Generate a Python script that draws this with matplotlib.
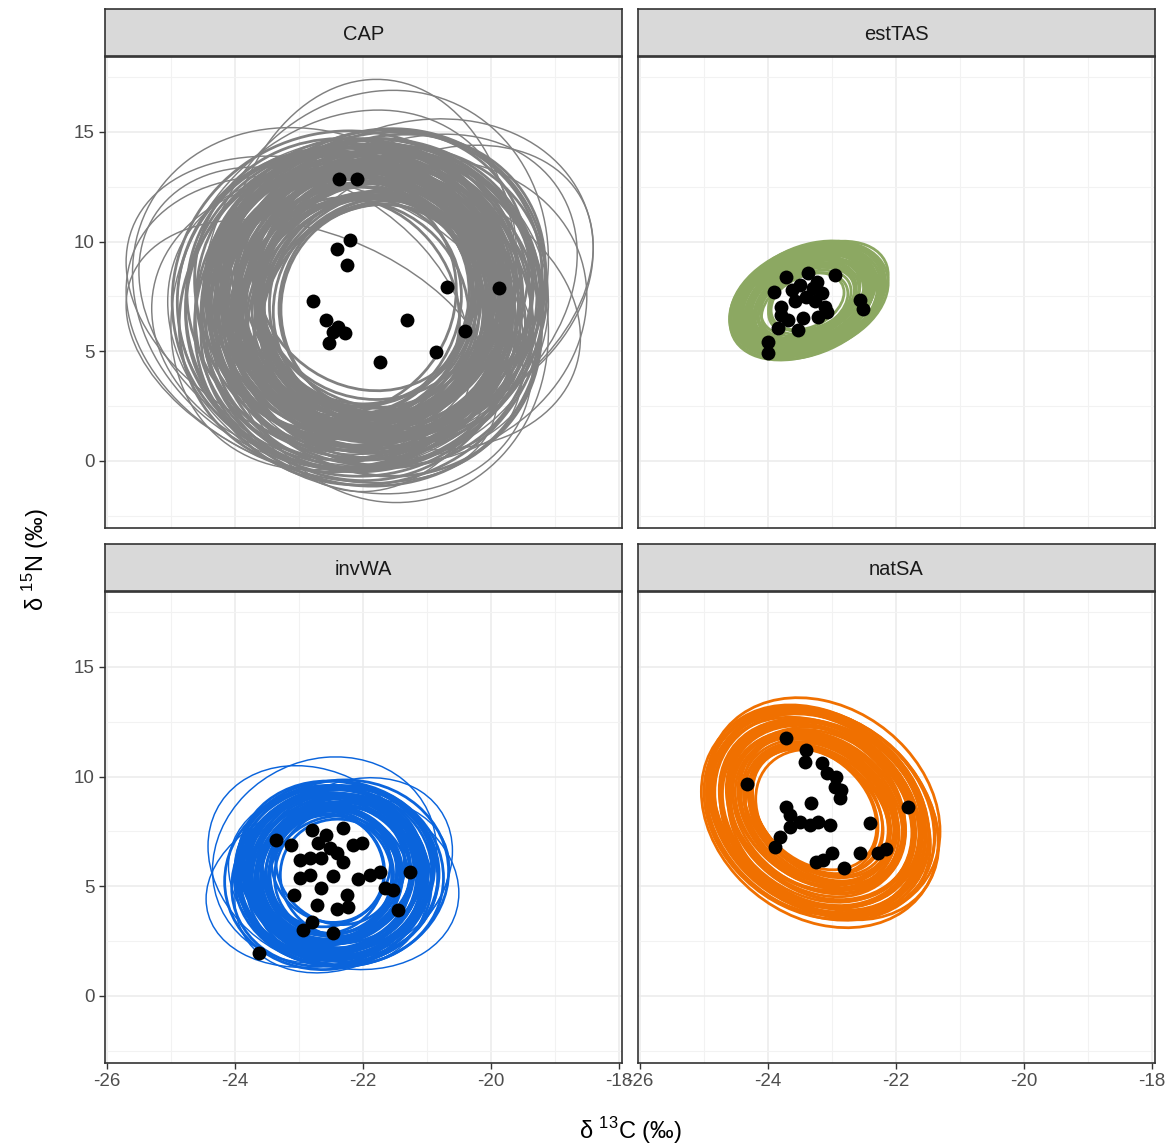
import numpy as np
import matplotlib.pyplot as plt
from matplotlib.patches import Circle
from matplotlib.transforms import Affine2D

plt.rcParams['font.family'] = ['Liberation Sans', 'DejaVu Sans']
plt.rcParams['mathtext.fontset'] = 'custom'
plt.rcParams['mathtext.rm'] = 'Liberation Sans'
plt.rcParams['axes.unicode_minus'] = False

groups = ["CAP", "estTAS", "invWA", "natSA"]
colours = ["#808080", "#8CA862", "#0A64DC", "#F07000"]

# raw isotope values per group
cap_d13c = [-22.37, -22.09, -22.20, -22.40, -22.25, -20.69, -19.87, -22.78, -22.57,
            -22.39, -22.28, -22.46, -22.53, -21.31, -20.41, -20.85, -21.73]
cap_d15n = [12.85, 12.85, 10.08, 9.65, 8.92, 7.95, 7.87, 7.31, 6.43,
            6.12, 5.82, 5.90, 5.37, 6.43, 5.94, 4.97, 4.51]

est_d13c = [-23.71, -23.37, -22.95, -23.90, -23.63, -23.24, -23.16, -23.40, -23.79,
            -23.58, -23.11, -23.27, -23.08, -23.21, -22.56, -22.51, -23.79, -23.68,
            -23.84, -23.53, -24.00, -24.00, -23.50, -23.30, -23.45]
est_d15n = [8.40, 8.56, 8.48, 7.72, 7.80, 8.18, 7.65, 7.49, 7.04,
            7.27, 7.04, 7.27, 6.81, 6.58, 7.34, 6.92, 6.66, 6.43,
            6.05, 5.97, 5.44, 4.91, 8.00, 7.90, 6.50]

inv_d13c = [-23.35, -23.13, -22.80, -22.57, -22.31, -22.70, -22.52, -22.15, -22.02,
            -22.98, -22.83, -22.65, -22.41, -22.31, -22.98, -22.83, -22.46, -22.07,
            -21.89, -21.73, -21.27, -22.65, -21.66, -21.53, -23.08, -22.25, -21.45,
            -22.72, -22.41, -22.23, -22.80, -22.93, -22.46, -23.62]
inv_d15n = [7.11, 6.89, 7.57, 7.34, 7.68, 6.96, 6.73, 6.89, 6.96,
            6.20, 6.28, 6.28, 6.51, 6.12, 5.37, 5.52, 5.47, 5.32,
            5.52, 5.67, 5.67, 4.91, 4.91, 4.83, 4.61, 4.61, 3.92,
            4.15, 3.95, 4.07, 3.39, 3.01, 2.86, 1.97]

nat_d13c = [-23.72, -24.32, -23.40, -23.42, -23.16, -23.08, -22.93, -22.95, -22.85,
            -22.88, -23.71, -23.33, -23.66, -23.50, -23.34, -23.21, -23.03, -23.66,
            -23.81, -23.89, -22.40, -21.81, -22.56, -22.28, -22.15, -23.00, -23.14,
            -23.25, -22.81]
nat_d15n = [11.75, 9.65, 11.22, 10.68, 10.61, 10.15, 10.00, 9.54, 9.39,
            9.01, 8.63, 8.79, 8.25, 7.95, 7.80, 7.95, 7.80, 7.72,
            7.26, 6.78, 7.90, 8.60, 6.53, 6.53, 6.69, 6.53, 6.20,
            6.12, 5.82]

# posterior ellipses: centre, half-extent in x and y, correlation
cap_cx = [-21.92, -21.75, -22.10, -21.85, -22.05, -21.70, -21.98, -22.20, -21.80, -21.95,
          -22.02, -21.65, -21.88, -22.15, -21.78, -21.90, -22.08, -21.72, -21.96, -22.25,
          -21.84, -22.00, -21.70, -21.93, -22.12, -21.82, -21.99, -21.68, -22.06, -21.87,
          -21.76, -22.18, -21.91, -21.58, -22.03, -21.81, -21.97, -22.30, -21.74, -21.89,
          -22.09, -21.66, -21.94, -21.83, -22.14, -21.79, -22.01, -21.71, -21.86, -22.22,
          -21.85, -22.04, -21.73, -22.16, -21.90, -21.62, -22.11, -21.95, -21.80, -22.27,
          -21.69, -22.00, -21.88, -22.07, -21.77, -21.93, -22.19, -21.64, -21.98, -21.84,
          -21.83, -22.06, -21.74, -22.21, -21.92, -21.61, -22.13, -21.97, -21.79, -22.24,
          -21.70, -22.02, -21.86, -22.09, -21.76, -21.94, -22.17, -21.66, -21.99, -21.81,
          -22.28, -21.88, -21.72, -22.05, -21.91]
cap_cy = [7.30, 7.00, 7.60, 6.90, 7.40, 7.80, 8.10, 7.20, 7.50, 6.50,
          7.90, 7.10, 6.80, 7.70, 7.30, 6.40, 7.00, 8.00, 7.40, 6.90,
          7.20, 7.60, 6.90, 7.10, 7.80, 6.80, 7.50, 7.00, 6.30, 7.30,
          7.70, 6.90, 7.40, 7.20, 6.70, 8.10, 7.00, 7.30, 6.60, 7.60,
          7.10, 7.50, 6.90, 7.80, 7.20, 6.60, 7.40, 7.00, 7.70, 6.80,
          7.15, 7.55, 6.85, 7.35, 7.95, 7.05, 6.75, 7.65, 7.25, 7.45,
          6.95, 7.85, 6.55, 7.15, 7.50, 7.35, 6.85, 7.70, 7.05, 7.40,
          7.25, 7.45, 6.95, 7.65, 7.10, 7.55, 6.70, 7.80, 7.00, 7.35,
          7.90, 6.60, 7.50, 7.20, 6.85, 7.75, 7.05, 7.40, 6.65, 7.60,
          7.15, 6.95, 7.85, 7.30, 6.50]
cap_sx = [1.62, 1.95, 2.30, 1.78, 2.10, 2.55, 1.70, 2.00, 2.42, 1.85,
          2.20, 1.66, 2.05, 2.48, 1.90, 2.15, 1.74, 2.35, 1.98, 2.62,
          1.80, 2.25, 1.58, 2.08, 2.38, 1.88, 2.18, 1.72, 2.45, 2.02,
          1.92, 2.28, 1.68, 2.12, 2.50, 1.83, 2.22, 1.76, 2.40, 1.96,
          1.60, 2.32, 1.64, 2.16, 1.87, 2.58, 2.00, 1.75, 2.26, 2.68,
          1.70, 2.24, 1.86, 2.44, 2.04, 1.94, 2.34, 1.77, 2.52, 2.11,
          1.99, 2.29, 1.81, 2.40, 2.07, 2.19, 1.73, 2.46, 1.91, 2.14,
          1.84, 2.36, 2.62, 1.97, 2.70, 2.27, 1.79, 2.56, 2.13, 2.74,
          1.89, 2.41, 2.66, 2.09, 2.53, 1.95, 2.60, 2.31, 2.78, 2.02,
          2.47, 1.85, 2.58, 2.21, 2.72]
cap_sy = [4.7, 5.9, 6.5, 5.2, 6.0, 7.1, 4.9, 5.8, 6.9, 5.5,
          6.4, 4.9, 6.1, 7.0, 5.4, 6.3, 5.1, 6.7, 5.7, 7.4,
          5.3, 6.6, 4.8, 5.9, 6.8, 5.6, 6.2, 5.0, 7.2, 5.8,
          5.6, 6.5, 4.9, 6.2, 7.0, 5.3, 6.4, 5.2, 6.9, 5.7,
          4.9, 6.6, 4.8, 6.3, 5.5, 7.3, 5.8, 5.1, 6.5, 7.5,
          5.0, 6.4, 5.5, 6.9, 5.9, 5.6, 6.7, 5.2, 7.2, 6.1,
          5.8, 6.5, 5.3, 6.8, 6.0, 6.3, 5.1, 7.0, 5.6, 6.2,
          5.4, 6.6, 7.4, 5.7, 7.6, 6.4, 5.2, 7.3, 6.0, 7.7,
          5.5, 6.8, 7.5, 6.0, 7.2, 5.6, 7.4, 6.5, 7.8, 5.9,
          7.0, 5.3, 7.3, 6.3, 7.6]
cap_r = [0.05, -0.10, 0.12, -0.05, 0.00, 0.15, -0.12, 0.08, -0.02, 0.10,
         -0.15, 0.03, 0.18, -0.08, 0.06, -0.04, 0.14, -0.18, 0.02, 0.09,
         -0.06, 0.11, 0.00, -0.13, 0.07, 0.16, -0.09, 0.04, -0.03, 0.12,
         0.01, -0.11, 0.08, -0.16, 0.13, -0.01, 0.05, 0.10, -0.07, 0.02,
         -0.14, 0.06, 0.17, -0.05, 0.09, -0.10, 0.03, -0.02, 0.15, -0.06,
         0.07, -0.12, 0.14, -0.03, 0.09, -0.08, 0.11, -0.15, 0.04, 0.12,
         -0.06, 0.02, 0.16, -0.10, 0.05, -0.02, 0.13, -0.07, 0.08, -0.12,
         0.03, -0.09, 0.12, -0.14, 0.06, 0.10, -0.04, 0.15, -0.11, 0.01,
         0.08, -0.07, 0.13, -0.02, 0.09, -0.13, 0.04, 0.11, -0.05, 0.14,
         -0.08, 0.02, 0.07, -0.12, 0.05]

# the wider, less likely CAP draws
cap_wide_cx = [-22.60, -22.40, -21.20, -21.90, -21.60, -22.80, -21.00, -22.00,
               -22.30, -21.50, -22.90, -21.40, -22.70, -21.30, -22.20, -21.80, -22.50]
cap_wide_cy = [6.0, 6.3, 8.6, 8.0, 6.3, 5.0, 7.8, 7.2, 7.8, 6.9, 6.6, 7.6,
               7.4, 6.8, 5.8, 8.3, 7.0]
cap_wide_sx = [3.10, 2.90, 2.80, 2.30, 2.50, 2.90, 2.60, 2.90, 2.70, 2.90, 2.60, 2.75,
               2.90, 2.80, 2.85, 2.70, 3.20]
cap_wide_sy = [7.0, 6.6, 7.0, 9.4, 8.2, 6.0, 6.6, 7.5, 8.2, 6.4, 6.8, 7.3,
               7.8, 7.0, 7.3, 8.6, 6.9]
cap_wide_r = [-0.25, -0.10, 0.15, 0.05, -0.05, -0.35, 0.30, 0.00, 0.20, -0.20, -0.30, 0.25,
              -0.15, 0.10, -0.20, 0.10, -0.30]

est_cx = [-23.38, -23.42, -23.33, -23.45, -23.36, -23.30, -23.40, -23.47, -23.35, -23.39,
          -23.44, -23.32, -23.37, -23.41, -23.28, -23.43, -23.36, -23.39, -23.46, -23.34,
          -23.40, -23.31, -23.38, -23.44, -23.35, -23.42, -23.37, -23.29, -23.41, -23.36,
          -23.33, -23.43, -23.39, -23.35, -23.40, -23.37, -23.41, -23.34, -23.43, -23.38,
          -23.31, -23.45, -23.36, -23.40, -23.33]
est_cy = [7.30, 7.20, 7.40, 7.25, 7.35, 7.45, 7.15, 7.28, 7.38, 7.22,
          7.32, 7.42, 7.18, 7.30, 7.50, 7.26, 7.36, 7.12, 7.24, 7.40,
          7.33, 7.21, 7.29, 7.37, 7.44, 7.19, 7.31, 7.41, 7.27, 7.34,
          7.23, 7.36, 7.28, 7.39, 7.25, 7.31, 7.24, 7.38, 7.20, 7.35,
          7.43, 7.17, 7.29, 7.36, 7.26]
est_sx = [1.05, 0.92, 1.15, 0.80, 1.00, 1.18, 0.70, 1.10, 0.95, 1.20,
          0.88, 1.08, 0.62, 1.02, 1.16, 0.85, 1.12, 0.76, 0.98, 1.14,
          1.06, 0.90, 1.22, 0.82, 1.04, 0.94, 1.11, 0.66, 1.00, 1.17,
          0.87, 1.09, 0.58, 0.96, 1.13, 0.74, 1.03, 0.84, 1.14, 0.93,
          0.68, 1.07, 0.79, 1.19, 0.89]
est_sy = [2.30, 2.05, 2.50, 1.78, 2.22, 2.58, 1.55, 2.40, 2.10, 2.62,
          1.95, 2.36, 1.40, 2.25, 2.52, 1.90, 2.45, 1.70, 2.15, 2.48,
          2.32, 2.00, 2.66, 1.82, 2.28, 2.08, 2.42, 1.48, 2.20, 2.55,
          1.92, 2.38, 1.30, 2.12, 2.46, 1.62, 2.24, 1.85, 2.47, 2.04,
          1.52, 2.35, 1.74, 2.58, 1.96]
est_r = [0.33, 0.28, 0.36, 0.30, 0.34, 0.26, 0.38, 0.31, 0.25, 0.35,
         0.37, 0.29, 0.32, 0.27, 0.39, 0.33, 0.28, 0.35, 0.26, 0.32,
         0.30, 0.37, 0.31, 0.28, 0.34, 0.33, 0.24, 0.36, 0.29, 0.33,
         0.35, 0.28, 0.31, 0.36, 0.27, 0.32, 0.30, 0.34, 0.29, 0.36,
         0.31, 0.27, 0.35, 0.30, 0.33]

inv_cx = [-22.45, -22.38, -22.52, -22.41, -22.48, -22.35, -22.55, -22.43, -22.50, -22.40,
          -22.46, -22.33, -22.58, -22.44, -22.39, -22.51, -22.47, -22.36, -22.42, -22.54,
          -22.49, -22.37, -22.45, -22.53, -22.40, -22.44, -22.31, -22.57, -22.46, -22.42,
          -22.50, -22.38, -22.48, -22.43, -22.56, -22.34, -22.47, -22.41, -22.52, -22.45,
          -22.42, -22.49, -22.36, -22.53, -22.44, -22.39, -22.51, -22.46, -22.35, -22.48]
inv_cy = [5.60, 5.40, 5.80, 5.50, 5.70, 5.30, 5.90, 5.60, 5.45, 5.75,
          5.55, 5.65, 5.35, 5.85, 5.50, 5.70, 5.40, 5.60, 5.80, 5.50,
          5.65, 5.45, 5.75, 5.55, 5.35, 5.90, 5.60, 5.50, 5.70, 5.40,
          5.60, 5.80, 5.45, 5.65, 5.55, 5.75, 5.30, 5.60, 5.50, 5.70,
          5.58, 5.48, 5.72, 5.62, 5.42, 5.78, 5.52, 5.68, 5.38, 5.64]
inv_sx = [1.20, 1.45, 0.95, 1.60, 1.10, 1.35, 0.88, 1.52, 1.25, 1.05,
          1.40, 1.15, 1.58, 0.92, 1.30, 1.48, 1.00, 1.62, 1.22, 1.38,
          1.08, 1.55, 1.28, 0.98, 1.42, 1.18, 1.65, 1.12, 1.33, 1.50,
          1.03, 1.27, 1.57, 1.36, 0.90, 1.44, 1.20, 1.53, 1.14, 1.31,
          1.16, 1.39, 1.02, 1.47, 1.24, 1.56, 1.09, 1.34, 0.94, 1.43]
inv_sy = [3.25, 3.85, 2.65, 4.10, 3.00, 3.60, 2.55, 3.95, 3.35, 2.90,
          3.70, 3.15, 4.15, 2.60, 3.50, 3.90, 2.80, 4.20, 3.30, 3.65,
          2.95, 4.05, 3.45, 2.75, 3.75, 3.20, 4.25, 3.05, 3.55, 4.00,
          2.85, 3.40, 4.10, 3.60, 2.70, 3.80, 3.25, 3.95, 3.10, 3.50,
          3.12, 3.68, 2.88, 3.90, 3.28, 4.02, 2.98, 3.58, 2.68, 3.78]
inv_r = [0.05, -0.08, 0.10, 0.02, -0.04, 0.12, -0.10, 0.06, 0.00, 0.08,
         -0.06, 0.14, 0.03, -0.12, 0.07, -0.02, 0.09, -0.05, 0.11, 0.01,
         -0.09, 0.04, 0.13, -0.03, 0.06, -0.11, 0.02, 0.10, -0.07, 0.05,
         0.08, -0.01, 0.12, -0.06, 0.03, 0.09, -0.04, 0.07, 0.00, -0.08,
         0.04, -0.07, 0.11, -0.02, 0.08, -0.10, 0.06, 0.01, -0.05, 0.09]

inv_wide_cx = [-22.60, -22.30, -22.55, -22.30, -22.70]
inv_wide_cy = [6.20, 5.30, 5.20, 5.50, 5.90]
inv_wide_sx = [1.75, 1.80, 1.90, 1.70, 1.72]
inv_wide_sy = [4.70, 4.10, 3.90, 4.45, 4.60]
inv_wide_r = [0.10, -0.15, 0.20, 0.25, -0.20]

nat_cx = [-23.20, -23.15, -23.26, -23.18, -23.24, -23.12, -23.28, -23.21, -23.16, -23.23,
          -23.19, -23.27, -23.13, -23.22, -23.17, -23.25, -23.20, -23.14, -23.29, -23.18,
          -23.22, -23.16, -23.24, -23.11, -23.21, -23.26, -23.19, -23.15, -23.23, -23.20,
          -23.17, -23.25, -23.13, -23.22, -23.28, -23.19, -23.16, -23.24, -23.21, -23.18,
          -23.23, -23.17, -23.26, -23.14, -23.20, -23.25, -23.18, -23.22, -23.15, -23.27]
nat_cy = [8.35, 8.20, 8.50, 8.30, 8.45, 8.15, 8.55, 8.40, 8.25, 8.38,
          8.28, 8.48, 8.60, 8.42, 8.33, 8.52, 8.22, 8.36, 8.46, 8.26,
          8.40, 8.30, 8.58, 8.24, 8.44, 8.34, 8.16, 8.49, 8.32, 8.41,
          8.27, 8.53, 8.37, 8.21, 8.43, 8.31, 8.47, 8.29, 8.39, 8.35,
          8.32, 8.44, 8.23, 8.51, 8.36, 8.27, 8.46, 8.34, 8.41, 8.29]
nat_sx = [1.35, 1.60, 1.05, 1.78, 1.22, 1.50, 0.98, 1.68, 1.42, 1.15,
          1.55, 1.28, 1.82, 1.02, 1.45, 1.65, 1.10, 1.75, 1.32, 1.58,
          1.20, 1.70, 1.38, 1.08, 1.62, 1.25, 1.85, 1.12, 1.48, 1.72,
          1.18, 1.40, 1.80, 1.52, 1.00, 1.66, 1.30, 1.76, 1.26, 1.56,
          1.14, 1.47, 1.63, 1.24, 1.71, 1.36, 1.06, 1.53, 1.29, 1.69]
nat_sy = [3.70, 4.40, 2.95, 4.85, 3.35, 4.10, 2.80, 4.60, 3.90, 3.20,
          4.25, 3.55, 5.00, 2.85, 4.00, 4.50, 3.05, 4.75, 3.65, 4.35,
          3.30, 4.65, 3.80, 3.00, 4.45, 3.45, 5.05, 3.10, 4.05, 4.70,
          3.25, 3.85, 4.90, 4.20, 2.90, 4.55, 3.60, 4.80, 3.50, 4.30,
          3.15, 4.05, 4.48, 3.40, 4.68, 3.75, 2.98, 4.22, 3.58, 4.62]
nat_r = [-0.24, -0.20, -0.28, -0.22, -0.26, -0.18, -0.30, -0.23, -0.21, -0.25,
         -0.19, -0.27, -0.22, -0.31, -0.24, -0.17, -0.29, -0.22, -0.20, -0.26,
         -0.24, -0.30, -0.21, -0.25, -0.19, -0.28, -0.23, -0.26, -0.22, -0.27,
         -0.16, -0.24, -0.29, -0.20, -0.26, -0.22, -0.25, -0.21, -0.28, -0.23,
         -0.27, -0.20, -0.24, -0.29, -0.21, -0.25, -0.30, -0.22, -0.26, -0.19]

points = [(cap_d13c, cap_d15n), (est_d13c, est_d15n), (inv_d13c, inv_d15n), (nat_d13c, nat_d15n)]
ellipses = [(cap_cx, cap_cy, cap_sx, cap_sy, cap_r),
            (est_cx, est_cy, est_sx, est_sy, est_r),
            (inv_cx, inv_cy, inv_sx, inv_sy, inv_r),
            (nat_cx, nat_cy, nat_sx, nat_sy, nat_r)]
wide = {0: (cap_wide_cx, cap_wide_cy, cap_wide_sx, cap_wide_sy, cap_wide_r),
        2: (inv_wide_cx, inv_wide_cy, inv_wide_sx, inv_wide_sy, inv_wide_r)}

W, H = 1175, 1148
fig = plt.figure(figsize=(W / 100, H / 100), dpi=100)

panel_x = [105, 638, 105, 638]
panel_top = [57, 57, 592, 592]
panel_w, panel_h, strip_h = 517, 471, 47
dark = "#333333"


def draw_ellipses(ax, cx, cy, sx, sy, rho, colour, lw):
    for x0, y0, a, b, r in zip(cx, cy, sx, sy, rho):
        m = np.array([[a, 0, x0], [b * r, b * np.sqrt(1 - r * r), y0], [0, 0, 1]])
        ax.add_patch(Circle((0, 0), 1, transform=Affine2D(m) + ax.transData,
                            fill=False, ec=colour, lw=lw, zorder=2))


for i, g in enumerate(groups):
    left = panel_x[i] / W
    bottom = 1 - (panel_top[i] + panel_h) / H
    ax = fig.add_axes([left, bottom, panel_w / W, panel_h / H])
    ax.set_xlim(-26.03, -17.95)
    ax.set_ylim(-3.06, 18.42)
    ax.set_xticks([-26, -24, -22, -20, -18])
    ax.set_xticks([-25, -23, -21, -19], minor=True)
    ax.set_yticks([0, 5, 10, 15])
    ax.set_yticks([-2.5, 2.5, 7.5, 12.5, 17.5], minor=True)
    ax.grid(True, which="major", color="#EBEBEB", lw=1.1, zorder=0)
    ax.grid(True, which="minor", color="#F2F2F2", lw=0.8, zorder=0)
    ax.set_axisbelow(True)
    for s in ax.spines.values():
        s.set_color(dark)
        s.set_linewidth(1.2)

    if i in wide:
        draw_ellipses(ax, *wide[i], colours[i], 1.05)
    draw_ellipses(ax, *ellipses[i], colours[i], 2.0)
    ax.scatter(points[i][0], points[i][1], s=100, color="black", zorder=3, linewidths=0)

    ax.tick_params(which="minor", length=0)
    ax.tick_params(which="major", length=4, width=1, color=dark, labelcolor="#4D4D4D",
                   labelsize=13.5)
    if i % 2 == 1:
        ax.tick_params(axis="y", which="major", length=0, labelleft=False)
    if i < 2:
        ax.tick_params(axis="x", which="major", length=0, labelbottom=False)

    # facet strip
    sax = fig.add_axes([left, 1 - panel_top[i] / H + 1 / H, panel_w / W, strip_h / H])
    sax.set_facecolor("#D9D9D9")
    sax.set_xticks([])
    sax.set_yticks([])
    for s in sax.spines.values():
        s.set_color(dark)
        s.set_linewidth(1.2)
    sax.text(0.5, 0.45, g, ha="center", va="center", fontsize=14.5, color="#1A1A1A",
             transform=sax.transAxes)

fig.text(630 / W, 1 - 1131 / H, r"δ $^{13}$C (‰)", ha="center", va="center", fontsize=17,
         color="black")
fig.text(36 / W, 1 - 560 / H, r"δ $^{15}$N (‰)", ha="center", va="center", fontsize=17,
         rotation=90, color="black")

fig.savefig("out.png", dpi=100)
